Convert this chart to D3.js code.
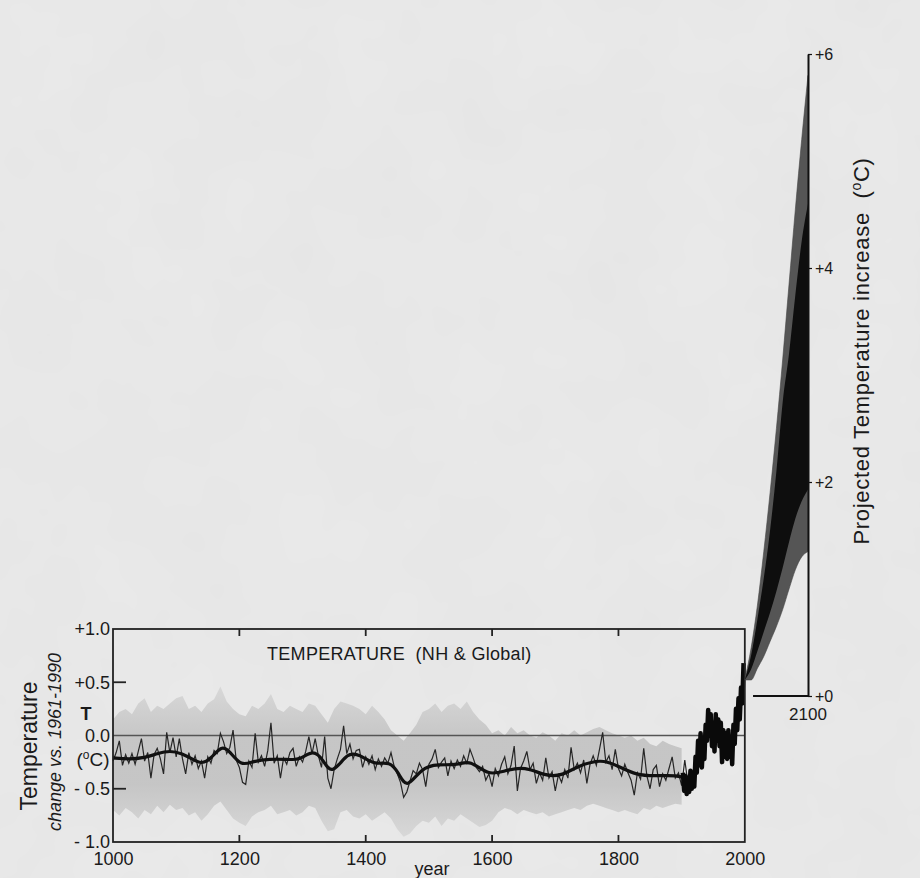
<!DOCTYPE html>
<html><head><meta charset="utf-8">
<script src="https://cdn.jsdelivr.net/npm/d3@7"></script>
<style>
body{margin:0;background:#e9e9e9;}
svg{display:block;}
text{font-family:"Liberation Sans",Arial,Helvetica,sans-serif;fill:#1a1a1a;}
</style>
</head><body>
<svg id="chart" width="920" height="878"></svg>
<script>
// ---------- DATA ----------
const xTicks = [1000, 1200, 1400, 1600, 1800, 2000];
const yTicks = [-1, -0.5, 0, 0.5, 1];
const yTickLabels = ["- 1.0", "- 0.5", "0.0", "+0.5", "+1.0"];
const projTicks = [0, 2, 4, 6];
const projTickLabels = ["+0", "+2", "+4", "+6"];

// reconstruction, 5-year steps starting 1000
const reconStart = 1000, reconStep = 5;
const reconValues = [
 -0.24,-0.16,-0.05,-0.28,-0.18,-0.26,-0.17,-0.27,-0.15,-0.03,-0.24,-0.16,-0.40,-0.18,-0.12,-0.22,-0.36,0.03,-0.16,-0.02,
 -0.20,-0.03,-0.22,-0.36,-0.16,-0.27,-0.19,-0.31,-0.24,-0.40,-0.20,-0.26,-0.14,-0.17,0.02,-0.06,-0.17,-0.11,0.05,-0.23,
 -0.30,-0.44,-0.46,-0.24,-0.30,0.02,-0.25,-0.19,-0.29,-0.14,0.12,-0.26,-0.19,-0.40,-0.21,-0.27,-0.16,-0.12,-0.29,-0.20,
 -0.25,-0.15,-0.01,-0.17,-0.03,-0.19,-0.30,-0.01,-0.40,-0.50,-0.32,-0.22,-0.13,0.09,-0.17,-0.08,-0.22,-0.14,-0.13,-0.30,
 -0.20,-0.27,-0.19,-0.32,-0.22,-0.29,-0.21,-0.26,-0.16,-0.29,-0.36,-0.44,-0.58,-0.53,-0.43,-0.33,-0.36,-0.26,-0.32,-0.48,
 -0.27,-0.22,-0.13,-0.30,-0.25,-0.21,-0.38,-0.24,-0.31,-0.23,-0.29,-0.19,-0.26,-0.13,-0.21,-0.30,-0.34,-0.29,-0.42,-0.36,
 -0.48,-0.31,-0.38,-0.27,-0.20,-0.36,-0.28,-0.10,-0.52,-0.31,-0.24,-0.15,-0.32,-0.26,-0.45,-0.35,-0.42,-0.21,-0.40,-0.34,
 -0.52,-0.37,-0.44,-0.32,-0.40,-0.11,-0.32,-0.26,-0.35,-0.23,-0.45,-0.27,-0.19,-0.28,-0.13,0.03,-0.25,-0.19,-0.32,-0.13,
 -0.31,-0.38,-0.27,-0.35,-0.42,-0.56,-0.35,-0.41,-0.12,-0.38,-0.50,-0.32,-0.28,-0.48,-0.36,-0.42,-0.31,-0.20,-0.40,-0.35,
 -0.47,-0.23,-0.45,-0.40
];

// 40-year smoothed reconstruction
const smoothYears = [1000,1025,1050,1070,1090,1110,1125,1140,1155,1172,1185,1203,1222,1248,1275,1296,1317,1333,1346,1372,1390,1415,1438,1452,1465,1488,1515,1546,1565,1594,1620,1652,1684,1710,1734,1773,1797,1829,1860,1892,1913];
const smoothValues = [-0.21,-0.225,-0.21,-0.17,-0.14,-0.17,-0.22,-0.27,-0.22,-0.09,-0.15,-0.29,-0.24,-0.22,-0.225,-0.23,-0.13,-0.23,-0.38,-0.15,-0.18,-0.28,-0.24,-0.35,-0.51,-0.30,-0.27,-0.28,-0.225,-0.38,-0.33,-0.29,-0.38,-0.38,-0.29,-0.22,-0.28,-0.375,-0.38,-0.37,-0.41];

// uncertainty envelope, 10-year steps starting 1000
const bandStart = 1000, bandStep = 10;
const bandUpper = [
 0.15,0.22,0.25,0.20,0.30,0.35,0.22,0.28,0.25,0.30,
 0.35,0.37,0.25,0.28,0.22,0.30,0.34,0.46,0.32,0.25,
 0.20,0.18,0.28,0.25,0.30,0.39,0.25,0.22,0.28,0.25,
 0.22,0.30,0.28,0.20,0.12,0.25,0.32,0.30,0.28,0.25,
 0.20,0.28,0.22,0.15,0.05,0.00,-0.05,0.02,0.10,0.22,
 0.25,0.30,0.22,0.28,0.30,0.25,0.32,0.22,0.15,0.10,
 0.02,0.05,0.00,0.08,0.02,0.05,0.00,-0.02,0.03,0.00,
 -0.05,0.02,0.00,0.05,0.00,0.03,0.06,0.08,0.05,0.02,
 0.00,-0.02,0.00,-0.05,-0.02,-0.08,-0.10,-0.05,-0.08,-0.10,
 -0.12
];
const bandLower = [
 -0.70,-0.75,-0.68,-0.72,-0.78,-0.70,-0.74,-0.66,-0.72,-0.65,
 -0.70,-0.68,-0.75,-0.72,-0.80,-0.74,-0.66,-0.62,-0.70,-0.78,
 -0.82,-0.85,-0.76,-0.72,-0.70,-0.66,-0.74,-0.72,-0.70,-0.75,
 -0.72,-0.66,-0.68,-0.80,-0.90,-0.88,-0.72,-0.70,-0.76,-0.78,
 -0.74,-0.80,-0.76,-0.72,-0.78,-0.88,-0.95,-0.92,-0.85,-0.80,
 -0.82,-0.76,-0.85,-0.78,-0.80,-0.74,-0.78,-0.82,-0.86,-0.84,
 -0.80,-0.72,-0.68,-0.70,-0.74,-0.70,-0.72,-0.74,-0.72,-0.76,
 -0.74,-0.72,-0.70,-0.68,-0.70,-0.66,-0.64,-0.66,-0.68,-0.70,
 -0.72,-0.70,-0.72,-0.74,-0.68,-0.70,-0.66,-0.68,-0.66,-0.64,
 -0.65
];

// instrumental record, 2-year steps starting 1902
const instStart = 1902, instStep = 2;
const instValues = [
 -0.35,-0.52,-0.38,-0.55,-0.40,-0.53,-0.33,-0.50,-0.36,-0.48,
 -0.20,-0.35,-0.05,-0.28,0.02,-0.30,-0.05,-0.22,0.10,-0.05,
 0.24,0.00,0.20,-0.10,0.12,-0.15,0.20,-0.05,0.15,-0.10,
 0.12,-0.25,0.05,-0.20,0.02,-0.22,0.05,-0.20,-0.05,-0.27,
 0.10,-0.08,0.25,0.05,0.35,0.15,0.45,0.30,0.68
];

// projected increase to 2100
const projYears = [2000,2010,2020,2030,2040,2050,2060,2070,2080,2090,2100];
const projHigh    = [0.15,0.45,0.85,1.35,1.90,2.50,3.15,3.85,4.55,5.20,5.80];
const projMidHigh = [0.15,0.38,0.72,1.10,1.55,2.10,2.75,3.20,3.75,4.25,4.60];
const projMidLow  = [0.15,0.25,0.42,0.60,0.78,0.98,1.20,1.44,1.66,1.82,1.93];
const projLow     = [0.15,0.15,0.26,0.37,0.51,0.65,0.81,1.00,1.18,1.30,1.35];
const projBaseStart = 2013;

// ---------- DRAW ----------
const FONT = '"Liberation Sans",Arial,Helvetica,sans-serif';
const svg = d3.select("#chart");
const x = d3.scaleLinear().domain([1000, 2100]).range([113, 808]);
const y = d3.scaleLinear().domain([-1, 1]).range([842, 629]);
const yP = d3.scaleLinear().domain([0, 6]).range([696, 54]);

const defs = svg.append("defs");
const f = defs.append("filter").attr("id","paper").attr("x",0).attr("y",0).attr("width","100%").attr("height","100%");
f.append("feTurbulence").attr("type","fractalNoise").attr("baseFrequency","0.012").attr("numOctaves",3).attr("seed",4);
f.append("feColorMatrix").attr("type","matrix").attr("values","0 0 0 0 0.5  0 0 0 0 0.5  0 0 0 0 0.5  0 0 0 0.10 0");
const g1 = defs.append("linearGradient").attr("id","bandGrad").attr("x1",0).attr("y1",0).attr("x2",0).attr("y2",1);
[["0%","#d6d6d6"],["35%","#c2c2c2"],["65%","#c2c2c2"],["100%","#d6d6d6"]].forEach(s=>g1.append("stop").attr("offset",s[0]).attr("stop-color",s[1]));

svg.append("rect").attr("width",920).attr("height",878).attr("fill","#eaeaea");
svg.append("rect").attr("width",920).attr("height",878).attr("filter","url(#paper)");

const band = bandUpper.map((u,i)=>({yr: bandStart + i*bandStep, hi: u, lo: bandLower[i]}));
svg.append("path").datum(band)
  .attr("d", d3.area().x(d=>x(d.yr)).y0(d=>y(d.lo)).y1(d=>y(d.hi)))
  .attr("fill","url(#bandGrad)").attr("opacity",0.9);

// zero line
svg.append("line").attr("x1",x(1000)).attr("x2",x(2000)).attr("y1",y(0)).attr("y2",y(0))
  .attr("stroke","#555").attr("stroke-width",1.3);

const recon = reconValues.map((v,i)=>({yr: reconStart + i*reconStep, v}));
svg.append("path").datum(recon)
  .attr("d", d3.line().x(d=>x(d.yr)).y(d=>y(d.v)))
  .attr("fill","none").attr("stroke","#262626").attr("stroke-width",1.2);

const smooth = smoothValues.map((v,i)=>({yr: smoothYears[i], v}));
svg.append("path").datum(smooth)
  .attr("d", d3.line().curve(d3.curveBasis).x(d=>x(d.yr)).y(d=>y(d.v)))
  .attr("fill","none").attr("stroke","#111").attr("stroke-width",3.2);

const inst = instValues.map((v,i)=>({yr: instStart + i*instStep, v}));
svg.append("path").datum(inst)
  .attr("d", d3.line().x(d=>x(d.yr)).y(d=>y(d.v)))
  .attr("fill","none").attr("stroke","#0a0a0a").attr("stroke-width",4.5).attr("stroke-linejoin","round");

// frame
svg.append("rect").attr("x",x(1000)).attr("y",y(1)).attr("width",x(2000)-x(1000)).attr("height",y(-1)-y(1))
  .attr("fill","none").attr("stroke","#222").attr("stroke-width",1.8);

// inner ticks
xTicks.slice(1,-1).forEach(t=>{
  svg.append("line").attr("x1",x(t)).attr("x2",x(t)).attr("y1",y(1)).attr("y2",y(1)+7).attr("stroke","#222").attr("stroke-width",1.8);
  svg.append("line").attr("x1",x(t)).attr("x2",x(t)).attr("y1",y(-1)).attr("y2",y(-1)-7).attr("stroke","#222").attr("stroke-width",1.8);
});
[-0.5,0.5].forEach(t=>{
  svg.append("line").attr("x1",x(1000)).attr("x2",x(1000)+13).attr("y1",y(t)).attr("y2",y(t)).attr("stroke","#222").attr("stroke-width",1.8);
});

// axes labels
const yAx = svg.append("g").attr("transform",`translate(${x(1000)},0)`)
  .call(d3.axisLeft(y).tickValues(yTicks).tickFormat((d,i)=>yTickLabels[i]).tickSize(0).tickPadding(3));
yAx.select(".domain").remove();
yAx.selectAll("text").style("font-size","18px").attr("fill","#1a1a1a").style("font-family",FONT);

const xAx = svg.append("g").attr("transform",`translate(0,${y(-1)})`)
  .call(d3.axisBottom(x).tickValues(xTicks).tickFormat(d3.format("d")).tickSize(0).tickPadding(10));
xAx.select(".domain").remove();
xAx.selectAll("text").style("font-size","18px").attr("fill","#1a1a1a").style("font-family",FONT);

svg.append("text").attr("x",432).attr("y",875).attr("text-anchor","middle").style("font-size","18px").text("year");

// projection fan
const proj = projYears.map((yr,i)=>({yr, hi: projHigh[i], mh: projMidHigh[i], ml: projMidLow[i], lo: projLow[i]}));
svg.append("path").datum(proj)
  .attr("d", d3.area().curve(d3.curveMonotoneX).x(d=>x(d.yr)).y0(d=>yP(d.lo)).y1(d=>yP(d.hi)))
  .attr("fill","#555").attr("stroke","#444").attr("stroke-width",0.6);
svg.append("path").datum(proj)
  .attr("d", d3.area().curve(d3.curveMonotoneX).x(d=>x(d.yr)).y0(d=>yP(d.ml)).y1(d=>yP(d.mh)))
  .attr("fill","#0e0e0e");

// projection axis
const pAx = svg.append("g").attr("transform",`translate(${x(2100)},0)`)
  .call(d3.axisRight(yP).tickValues(projTicks).tickFormat((d,i)=>projTickLabels[i]).tickSize(4).tickSizeOuter(0).tickPadding(3));
pAx.select(".domain").attr("stroke","#111").attr("stroke-width",2);
pAx.selectAll(".tick line").attr("stroke","#111").attr("stroke-width",1.2);
pAx.selectAll("text").style("font-size","16px").attr("fill","#1a1a1a").style("font-family",FONT);
svg.append("line").attr("x1",x(projBaseStart)).attr("x2",x(2100)).attr("y1",yP(0)).attr("y2",yP(0))
  .attr("stroke","#111").attr("stroke-width",2);
svg.append("text").attr("x",x(2100)).attr("y",yP(0)+24).attr("text-anchor","middle").style("font-size","17px").text("2100");

// titles
svg.append("text").attr("x",267).attr("y",660).style("font-size","18px").style("letter-spacing","0.3px")
  .attr("xml:space","preserve").style("white-space","pre").text("TEMPERATURE  (NH & Global)");

svg.append("text").attr("transform","translate(37,746) rotate(-90)").attr("text-anchor","middle")
  .style("font-size","23px").text("Temperature");
svg.append("text").attr("transform","translate(61,742) rotate(-90)").attr("text-anchor","middle")
  .style("font-size","18px").style("font-style","italic").text("change vs. 1961-1990");
svg.append("text").attr("x",86).attr("y",720).attr("text-anchor","middle").style("font-size","18px").style("font-weight","bold").text("T");
const dc = svg.append("text").attr("x",93).attr("y",766).attr("text-anchor","middle").style("font-size","19px");
dc.append("tspan").text("(");
dc.append("tspan").attr("dy",-7).style("font-size","12px").text("o");
dc.append("tspan").attr("dy",7).text("C)");

const rt = svg.append("text").attr("transform","translate(869,351) rotate(-90)").attr("text-anchor","middle")
  .style("font-size","22px").style("letter-spacing","0.7px").attr("xml:space","preserve").style("white-space","pre");
rt.append("tspan").text("Projected Temperature increase  (");
rt.append("tspan").attr("dy",-8).style("font-size","14px").text("o");
rt.append("tspan").attr("dy",8).text("C)");
</script>
</body></html>
